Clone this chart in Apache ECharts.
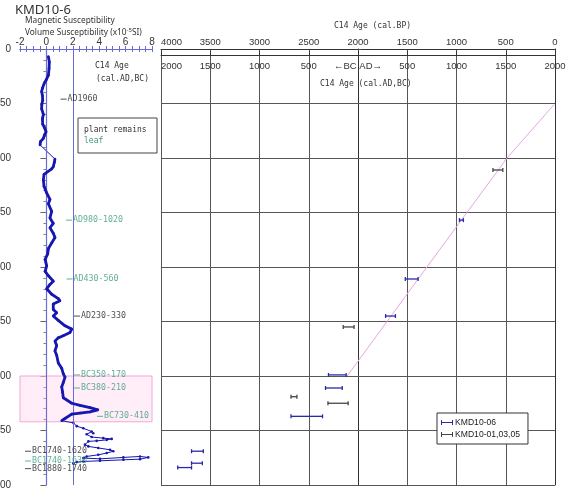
<!DOCTYPE html>
<html>
<head>
<meta charset="utf-8">
<script src="https://cdn.jsdelivr.net/npm/echarts@6/dist/echarts.min.js"></script>
<style>
html,body{margin:0;padding:0;background:#fff}
#chart{width:573px;height:492px}
</style>
</head>
<body>
<div id="chart"></div>
<script>
// Volume magnetic susceptibility profile: depth (cm) and value (x10^-5 SI)
const susDepth = [
  7, 12, 18, 24, 28, 32, 36, 39, 43, 47, 51, 55, 60, 64, 69, 72, 76, 79, 82, 85, 88,
  101, 104, 108, 110, 115, 120, 126, 132, 138, 142, 149, 155, 160, 164, 169, 173, 178, 183, 188,
  193, 199, 204, 208, 213, 216, 220, 225, 229, 231, 234, 239, 242, 245, 249, 254, 257, 260, 263,
  265, 268, 272, 277, 281, 288, 293, 298, 301, 306, 310, 315, 320,
  325, 327, 329, 331, 333, 334, 335, 339, 341, 343, 346, 348, 351, 352.5, 353.5, 356, 357, 357.7,
  358.6, 359.5, 360, 363, 364.6, 366, 367.7, 369, 370.7, 372.3, 373.8, 375.3, 376, 374.7, 373.8,
  374.7, 376.3, 376.9, 377.8, 378.4, 379, 380
];
const susValue = [
  0.15, 0.22, 0.2, 0.15, 0.0, -0.18, -0.3, -0.36, -0.3, -0.28, -0.35, -0.36, -0.23, -0.3, -0.28, -0.15, -0.03, -0.15, -0.23, -0.45, -0.48,
  0.65, 0.6, 0.52, 0.4, -0.18, -0.23, -0.18, 0.02, 0.27, 0.15, 0.4, 0.27, 0.52, 0.27, 0.52, 0.65, 0.4, 0.15, 0.1,
  -0.1, 0.02, -0.1, 0.15, 0.52, 0.27, 0.02, 0.4, 0.9, 1.03, 0.52, 0.52, 0.78, 0.52, 0.9, 1.41, 1.92, 1.79, 1.28,
  0.9, 0.65, 0.78, 0.65, 0.78, 0.9, 1.16, 1.28, 1.41, 1.28, 1.16, 1.23, 1.28,
  1.92, 2.55, 3.3, 3.9, 3.3, 2.55, 1.92, 1.41, 1.16, 2.04, 2.3, 2.8, 3.43, 3.55, 3.05, 3.43, 4.31, 4.95,
  4.57, 3.81, 3.18, 2.92, 3.18, 3.93, 4.82, 5.07, 4.57, 3.93, 3.05, 2.8, 4.06, 5.83, 7.09,
  7.72, 7.09, 5.83, 4.06, 2.8, 2.3, 2.04
];
// Depth intervals with dense sampling (drawn as a heavier trace)
const denseRanges = [[7, 88], [101, 342]];
// Depth interval highlighted in pink (cm)
const shadeTop = 300;
const shadeBottom = 342;

// Radiocarbon ages, calibrated BP ranges, core KMD10-06
const core06Depth = [157, 211, 245, 299, 311, 337, 369, 380, 384];
const core06Old = [970, 1520, 1720, 2300, 2330, 2680, 3690, 3690, 3830];
const core06Young = [930, 1390, 1620, 2120, 2160, 2360, 3570, 3580, 3690];
// Radiocarbon ages, calibrated BP ranges, cores KMD10-01,03,05
const coreOtherDepth = [111, 255, 319, 325];
const coreOtherOld = [630, 2150, 2680, 2305];
const coreOtherYoung = [530, 2040, 2620, 2100];

// Age-depth model line (cal BP, depth cm)
const modelAge = [10, 487, 1300, 2110];
const modelDepth = [51, 100, 200, 300];

// Date annotations beside the susceptibility profile
const dateText = ['AD1960', 'AD980-1020', 'AD430-560', 'AD230-330', 'BC350-170', 'BC380-210',
  'BC730-410', 'BC1740-1620', 'BC1740-1630', 'BC1880-1740'];
const dateDepth = [46, 157, 211, 245, 299, 311, 337, 369, 378, 385];
const dateIsLeaf = [false, true, true, false, true, true, true, false, true, false];

// Tick labels
const bpTicks = [4000, 3500, 3000, 2500, 2000, 1500, 1000, 500, 0];
const adTickLabels = ['2000', '1500', '1000', '500', '\u2190BC AD\u2192', '500', '1000', '1500', '2000'];

// anchor of each annotation dash, in susceptibility units (layout only)
const dateAnchor = [1.3, 1.71, 1.75, 2.32, 2.32, 2.32, 4.06, -1.39, -1.39, -1.39];

const BLUE = '#1616b0';
const AXISBLUE = '#6a6ad8';
const GREEN = '#3a9a7a';
const MONO = 'DejaVu Sans Mono';
const SANS = 'Liberation Sans';

const chart = echarts.init(document.getElementById('chart'), null, {renderer: 'canvas'});

const profile = susDepth.map((d, i) => [susValue[i], d]);

// one heavy trace per densely sampled interval
const denseSeries = denseRanges.map(r => ({
  type: 'line', xAxisIndex: 0, yAxisIndex: 0,
  data: susDepth.map((d, i) => [susValue[i], d]).filter(p => p[1] >= r[0] && p[1] <= r[1]),
  showSymbol: false, lineStyle: {color: BLUE, width: 2.8}, silent: true, z: 5
}));

function errorBars(params, api) {
  const a = api.coord([api.value(0), api.value(2)]);
  const b = api.coord([api.value(1), api.value(2)]);
  const st = {stroke: api.visual('color'), lineWidth: 1.3};
  return {
    type: 'group',
    children: [
      {type: 'line', shape: {x1: a[0], y1: a[1], x2: b[0], y2: b[1]}, style: st},
      {type: 'line', shape: {x1: a[0], y1: a[1] - 2, x2: a[0], y2: a[1] + 2}, style: st},
      {type: 'line', shape: {x1: b[0], y1: b[1] - 2, x2: b[0], y2: b[1] + 2}, style: st}
    ]
  };
}

const barIcon = 'path://M0,0h1v5h-1zM0,2h12v1h-12zM11,0h1v5h-1z';

const option = {
  animation: false,
  backgroundColor: '#fff',
  grid: [
    {left: 20, top: 49, width: 132, height: 436, outerBoundsMode: 'none'},
    {left: 161, top: 49, width: 394, height: 436, outerBoundsMode: 'none'}
  ],
  xAxis: [
    {
      gridIndex: 0, type: 'value', position: 'top', min: -2, max: 8, interval: 0.5,
      axisLine: {lineStyle: {color: AXISBLUE, width: 1.2}},
      axisTick: {inside: true, length: 3, lineStyle: {color: AXISBLUE}},
      axisLabel: {fontSize: 10, color: '#333', fontFamily: SANS, margin: 2,
        formatter: v => (v % 2 === 0 ? String(v) : '')},
      splitLine: {show: false}
    },
    {
      gridIndex: 0, type: 'value', position: 'bottom', min: -2, max: 8, interval: 0.5,
      axisLine: {lineStyle: {color: AXISBLUE, width: 1.2}},
      axisTick: {inside: true, length: 3, lineStyle: {color: AXISBLUE}},
      axisLabel: {show: false},
      splitLine: {show: false}
    },
    {
      gridIndex: 1, type: 'value', position: 'top', min: 0, max: 4000, interval: 500, inverse: true,
      axisLine: {lineStyle: {color: '#333'}},
      axisTick: {show: false},
      axisLabel: {fontSize: 9.5, color: '#333', fontFamily: SANS, margin: 2, alignMaxLabel: 'left',
        formatter: v => String(bpTicks[bpTicks.indexOf(v)])},
      splitLine: {lineStyle: {color: '#555', width: 1}}
    },
    {
      gridIndex: 1, type: 'value', position: 'top', offset: -6, min: -2000, max: 2000, interval: 500,
      axisLine: {lineStyle: {color: '#333'}},
      axisTick: {inside: false, length: 4, lineStyle: {color: '#333'}},
      axisLabel: {inside: true, fontSize: 9.5, color: '#333', fontFamily: SANS, margin: 6, alignMinLabel: 'left',
        formatter: v => adTickLabels[Math.round((v + 2000) / 500)]},
      splitLine: {show: false}
    }
  ],
  yAxis: [
    {
      gridIndex: 0, type: 'value', min: 0, max: 400, interval: 50, inverse: true,
      axisLine: {lineStyle: {color: '#888', type: 'dotted'}},
      axisTick: {length: 6, lineStyle: {color: '#666'}},
      minorTick: {show: true, splitNumber: 5, length: 3, lineStyle: {color: '#888'}},
      axisLabel: {fontSize: 10, color: '#333', fontFamily: SANS, margin: 9},
      splitLine: {show: false}
    },
    {
      gridIndex: 0, type: 'value', position: 'right', min: 0, max: 400, inverse: true,
      axisLine: {show: true, lineStyle: {color: AXISBLUE, width: 1.2}},
      axisTick: {show: false}, axisLabel: {show: false}, splitLine: {show: false}
    },
    {
      gridIndex: 1, type: 'value', min: 0, max: 400, interval: 50, inverse: true,
      axisLine: {show: true, lineStyle: {color: '#333'}},
      axisTick: {show: false}, axisLabel: {show: false},
      splitLine: {lineStyle: {color: '#555', width: 1}}
    },
    {
      gridIndex: 1, type: 'value', position: 'right', min: 0, max: 400, interval: 50, inverse: true,
      axisLine: {show: true, lineStyle: {color: '#333'}},
      axisTick: {show: true, length: 3, lineStyle: {color: '#555'}},
      axisLabel: {show: false}, splitLine: {show: false}
    }
  ],
  legend: {
    orient: 'vertical', left: 437, top: 413,
    backgroundColor: '#fff', borderColor: '#333', borderWidth: 1,
    padding: [5, 8, 5, 4], itemGap: 3, itemWidth: 12, itemHeight: 5,
    textStyle: {fontSize: 8.6, fontFamily: SANS, color: '#222', padding: [0, 0, 0, -3]},
    data: [
      {name: 'KMD10-06', icon: barIcon},
      {name: 'KMD10-01,03,05', icon: barIcon}
    ]
  },
  series: [
    {
      type: 'line', name: 'susceptibility', xAxisIndex: 0, yAxisIndex: 0,
      data: profile, showSymbol: true, symbol: 'circle', symbolSize: 2.6,
      lineStyle: {color: BLUE, width: 1}, itemStyle: {color: BLUE},
      silent: true, z: 4,
      markLine: {
        silent: true, symbol: 'none', label: {show: false},
        lineStyle: {color: AXISBLUE, width: 1, type: 'solid'},
        data: [{xAxis: 0}, {xAxis: 2}]
      },
      markArea: {
        silent: true,
        itemStyle: {color: 'rgba(255, 200, 230, 0.32)', borderColor: '#f0a8d8', borderWidth: 1},
        data: [[{yAxis: shadeTop}, {yAxis: shadeBottom}]]
      }
    },
    ...denseSeries,
    {
      type: 'scatter', name: 'dates', xAxisIndex: 0, yAxisIndex: 0,
      symbol: 'rect', symbolSize: [6, 1], silent: true, z: 6,
      data: dateText.map((t, i) => ({
        value: [dateAnchor[i], dateDepth[i]],
        itemStyle: {color: dateIsLeaf[i] ? GREEN : '#222'},
        label: {color: dateIsLeaf[i] ? GREEN : '#222'}
      })),
      label: {
        show: true, position: 'right', distance: 1,
        fontFamily: MONO, fontSize: 8.3,
        formatter: p => dateText[p.dataIndex]
      }
    },
    {
      type: 'line', name: 'age model', xAxisIndex: 2, yAxisIndex: 2,
      data: modelAge.map((a, i) => [a, modelDepth[i]]),
      showSymbol: false, lineStyle: {color: '#e3a8e3', width: 1}, silent: true, z: 3
    },
    {
      type: 'custom', name: 'KMD10-06', xAxisIndex: 2, yAxisIndex: 2,
      itemStyle: {color: '#2a2aa8'}, renderItem: errorBars, encode: {x: [0, 1], y: 2}, z: 6,
      data: core06Depth.map((d, i) => [core06Old[i], core06Young[i], d])
    },
    {
      type: 'custom', name: 'KMD10-01,03,05', xAxisIndex: 2, yAxisIndex: 2,
      itemStyle: {color: '#444'}, renderItem: errorBars, encode: {x: [0, 1], y: 2}, z: 6,
      data: coreOtherDepth.map((d, i) => [coreOtherOld[i], coreOtherYoung[i], d])
    }
  ],
  graphic: [
    {type: 'text', left: 15, top: 4, style: {text: 'KMD10-6', fontSize: 13, fontFamily: 'Noto Sans', fill: '#333'}},
    {type: 'text', left: 25, top: 17, style: {text: 'Magnetic Susceptibility', fontSize: 8.3, fontFamily: 'Noto Sans', fill: '#333'}},
    {type: 'text', left: 25, top: 27, style: {
      text: 'Volume Susceptibility (x10{s|-5}SI)', fontSize: 8.3, fontFamily: 'Noto Sans', fill: '#333',
      rich: {s: {fontSize: 6, fontFamily: 'Noto Sans', fill: '#333', padding: [0, 0, 5, 0]}}
    }},
    {type: 'text', left: 95, top: 62, style: {text: 'C14 Age', fontSize: 8, fontFamily: MONO, fill: '#333'}},
    {type: 'text', left: 96, top: 75, style: {text: '(cal.AD,BC)', fontSize: 8, fontFamily: MONO, fill: '#333'}},
    {type: 'rect', shape: {x: 78, y: 118, width: 79, height: 35}, style: {fill: '#fff', stroke: '#444', lineWidth: 1}, z: 10},
    {type: 'text', x: 84, y: 126, style: {text: 'plant remains', fontSize: 8, fontFamily: MONO, fill: '#333'}, z: 11},
    {type: 'text', x: 84, y: 137, style: {text: 'leaf', fontSize: 8, fontFamily: MONO, fill: GREEN}, z: 11},
    {type: 'text', x: 334, y: 22, style: {text: 'C14 Age (cal.BP)', fontSize: 8, fontFamily: MONO, fill: '#333'}},
    {type: 'text', x: 320, y: 80, style: {text: 'C14 Age (cal.AD,BC)', fontSize: 8, fontFamily: MONO, fill: '#333'}}
  ]
};

chart.setOption(option);
</script>
</body>
</html>
